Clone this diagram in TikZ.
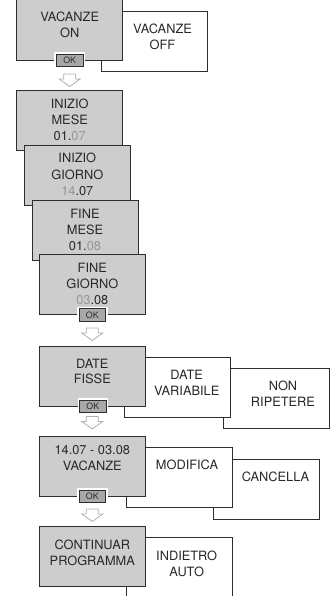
\documentclass[tikz,border=0pt]{standalone}
\usepackage{fontspec}
\setmainfont{TeX Gyre Heros}
\definecolor{boxgray}{RGB}{205,205,205}
\definecolor{edge}{RGB}{45,45,45}
\definecolor{okgray}{RGB}{168,168,168}
\definecolor{arrgray}{RGB}{175,175,175}
\definecolor{dimtxt}{RGB}{150,150,150}
\definecolor{txt}{RGB}{40,40,40}
\tikzset{
  graybox/.style={draw=edge, fill=boxgray, line width=0.9pt, minimum width=106pt, minimum height=60pt, anchor=north west, inner sep=0pt, outer sep=0pt},
  whitebox/.style={graybox, fill=white},
  lbl/.style={anchor=base, inner sep=0pt, font=\fontsize{12.8}{15}\selectfont, text=txt},
  okbtn/.style={draw=edge, fill=okgray, line width=0.8pt, minimum width=26.5pt, minimum height=12.5pt, inner sep=0pt, font=\fontsize{8.8}{9}\selectfont, text=txt, preaction={draw=white, line width=4pt}},
  downarr/.pic={\draw[draw=arrgray, fill=white, line width=0.8pt] (-6,0) -- (6,0) -- (6,5) -- (10.5,5) -- (0,12.5) -- (-10.5,5) -- (-6,5) -- cycle;}
}
\newcommand{\dimtx}[1]{\textcolor{dimtxt}{#1}}
\begin{document}
\begin{tikzpicture}[x=1pt,y=-1pt]
\useasboundingbox (0,0) rectangle (334,596);
% --- VACANZE ON / OFF
\node[whitebox] (off) at (101.7,11) {};
\node[graybox, minimum height=61.5pt] (on) at (16.7,-1) {};
\node[lbl] (t1) at (69.7,21.7) {VACANZE};
\node[lbl] (t2) at (69.7,37.7) {ON};
\node[lbl] (t3) at (162.5,33.5) {VACANZE};
\node[lbl] (t4) at (162.5,49.5) {OFF};
\node[okbtn] (ok1) at (69.7,60.5) {OK};
\pic at (69.7,74) {downarr};
% --- staircase
\node[graybox] (im) at (16.7,90.7) {};
\node[graybox] (ig) at (24.3,145) {};
\node[graybox] (fm) at (32,200) {};
\node[graybox] (fg) at (39.3,254.5) {};
\node[lbl] (a1) at (69.7,108.7) {INIZIO};
\node[lbl] (a2) at (69.7,124.5) {MESE};
\node[lbl] (a3) at (69.7,140.5) {01.\dimtx{07}};
\node[lbl] (b1) at (77.3,163) {INIZIO};
\node[lbl] (b2) at (77.3,179) {GIORNO};
\node[lbl] (b3) at (77.3,195) {\dimtx{14}.07};
\node[lbl] (c1) at (85,218) {FINE};
\node[lbl] (c2) at (85,234) {MESE};
\node[lbl] (c3) at (85,250) {01.\dimtx{08}};
\node[lbl] (d1) at (92.3,272.5) {FINE};
\node[lbl] (d2) at (92.3,288.5) {GIORNO};
\node[lbl] (d3) at (92.3,304.5) {\dimtx{03}.08};
\node[okbtn] (ok2) at (92.3,315) {OK};
\pic at (92.3,328) {downarr};
% --- DATE
\node[whitebox] (nr) at (223.7,368.3) {};
\node[whitebox] (dv) at (124,357.3) {};
\node[graybox] (df) at (39.3,346) {};
\node[lbl] (e1) at (92.3,368) {DATE};
\node[lbl] (e2) at (92.3,383.5) {FISSE};
\node[lbl] (e3) at (186.7,379.5) {DATE};
\node[lbl] (e4) at (186.7,395) {VARIABILE};
\node[lbl] (e5) at (283,390.7) {NON};
\node[lbl] (e6) at (283,406.7) {RIPETERE};
\node[okbtn] (ok3) at (92.8,406.5) {OK};
\pic at (92.3,416.5) {downarr};
% --- 14.07 - 03.08
\node[whitebox] (ca) at (213.3,459.3) {};
\node[whitebox] (mo) at (126,447.3) {};
\node[graybox] (va) at (39.3,436) {};
\node[lbl] (f1) at (92.3,454) {14.07 - 03.08};
\node[lbl] (f2) at (92.3,470.5) {VACANZE};
\node[lbl] (f3) at (187,469.3) {MODIFICA};
\node[lbl] (f4) at (275.5,481.7) {CANCELLA};
\node[okbtn] (ok4) at (92.3,496.5) {OK};
\pic at (92.3,509) {downarr};
% --- CONTINUAR
\node[whitebox, minimum height=70pt] (ia) at (126,537.7) {};
\node[graybox] (cp) at (39.3,526.7) {};
\node[lbl] (g1) at (92.3,549) {CONTINUAR};
\node[lbl] (g2) at (92.3,565) {PROGRAMMA};
\node[lbl] (g3) at (186.7,560) {INDIETRO};
\node[lbl] (g4) at (186.7,576.5) {AUTO};
\end{tikzpicture}
\end{document}
